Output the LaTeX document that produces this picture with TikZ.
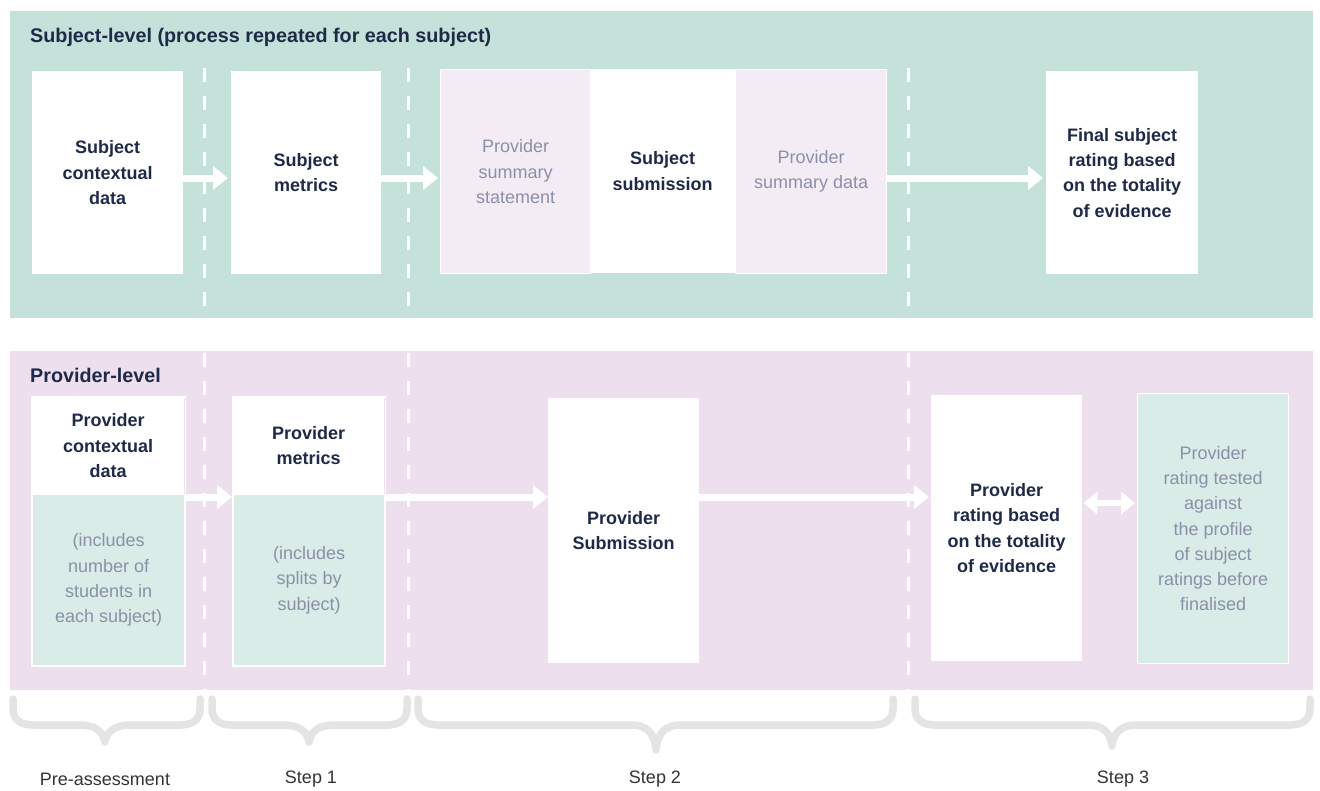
\documentclass[tikz,border=0pt]{standalone}
\usepackage{fontspec}
\setmainfont{Liberation Sans}
\usetikzlibrary{arrows.meta}
\definecolor{panelteal}{HTML}{C4E2DA}
\definecolor{panelpink}{HTML}{EEDFEF}
\definecolor{boxpink}{HTML}{F3ECF5}
\definecolor{boxteal}{HTML}{D9ECE7}
\definecolor{navy}{HTML}{1E2A47}
\definecolor{softgray}{HTML}{8B90A8}
\definecolor{bracegray}{HTML}{E4E4E2}
\definecolor{labelgray}{HTML}{333333}
\begin{document}
\begin{tikzpicture}[x=1pt,y=-1pt,
  sep/.style={white,line width=3pt,dash pattern=on 14pt off 14pt},
  anybox/.style={anchor=north west,inner sep=0pt,align=center,
    font=\fontsize{18}{25.3}\selectfont},
  wbox/.style={anybox,fill=white,text=navy,font=\fontsize{18}{25.3}\selectfont\bfseries},
  pbox/.style={anybox,fill=boxpink,draw=white,line width=1.2pt,text=softgray},
  tbox/.style={anybox,fill=boxteal,draw=white,line width=1.2pt,text=softgray},
  flow/.style={white,line width=7pt,-{Triangle[length=15pt,width=23pt]}},
  both/.style={white,line width=6pt,{Triangle[length=14pt,width=22pt]}-{Triangle[length=14pt,width=22pt]}},
  title/.style={anchor=west,inner sep=0pt,text=navy,font=\fontsize{19.75}{22}\selectfont\bfseries},
  brace/.style={bracegray,line width=7.5pt,line join=round,line cap=round},
  steplabel/.style={inner sep=0pt,text=labelgray,font=\fontsize{18}{20}\selectfont}]
\useasboundingbox (0,0) rectangle (1320,790);
% panels
\fill[panelteal] (10,11) rectangle (1313,318);
\fill[panelpink] (10,351) rectangle (1313,690);
% separators
\foreach \x in {204,408,908}{
  \draw[sep] (\x,68) -- (\x,318);
  \draw[sep] (\x,353) -- (\x,690);
}
% titles
\node[title] (t1) at (30,37) {Subject-level (process repeated for each subject)};
\node[title] (t2) at (30,375) {Provider-level};
% top boxes
\node[wbox,minimum width=151pt,minimum height=203pt] (scd) at (32,71) {Subject\\contextual\\data};
\node[wbox,minimum width=150pt,minimum height=203pt] (sm) at (231,71) {Subject\\metrics};
\node[pbox,minimum width=150pt,minimum height=204pt] (pss) at (440,69) {Provider\\summary\\statement};
\node[wbox,minimum width=145pt,minimum height=204pt] (ssub) at (590,69) {Subject\\submission};
\node[pbox,minimum width=151pt,minimum height=204pt] (psd) at (735,69) {Provider\\summary data};
\node[wbox,minimum width=152pt,minimum height=203pt] (fin) at (1046,71) {Final subject\\rating based\\on the totality\\of evidence};
% bottom boxes
\node[wbox,minimum width=152pt,minimum height=97pt] (pcd) at (32,397) {Provider\\contextual\\data};
\node[tbox,minimum width=152pt,minimum height=171pt] (pcdx) at (32,494) {(includes\\number of\\students in\\each subject)};
\node[wbox,minimum width=151pt,minimum height=97pt] (pm) at (233,397) {Provider\\metrics};
\node[tbox,minimum width=151pt,minimum height=171pt] (pmx) at (233,494) {(includes\\splits by\\subject)};
\node[wbox,minimum width=151pt,minimum height=265pt] (psub) at (548,398) {Provider\\Submission};
\node[wbox,minimum width=151pt,minimum height=266pt] (pr) at (931,395) {Provider\\rating based\\on the totality\\of evidence};
\node[tbox,minimum width=151pt,minimum height=270pt] (ptest) at (1137,393) {Provider\\rating tested\\against\\the profile\\of subject\\ratings before\\finalised};
% outline for provider boxes
\draw[white,line width=1.2pt] (pcd.north west) rectangle (pcdx.south east);
\draw[white,line width=1.2pt] (pm.north west) rectangle (pmx.south east);
% arrows
\coordinate (ytop) at (0,178);
\coordinate (ybot) at (0,497);
\coordinate (ydbl) at (0,503);
\draw[flow] (scd.east |- ytop) -- ([xshift=-3pt]sm.west |- ytop);
\draw[flow] (sm.east |- ytop) -- ([xshift=-2pt]pss.west |- ytop);
\draw[flow] (psd.east |- ytop) -- ([xshift=-3pt]fin.west |- ytop);
\draw[flow] (pcdx.north east |- ybot) -- ([xshift=-1pt]pmx.north west |- ybot);
\draw[flow] (pmx.north east |- ybot) -- (psub.west |- ybot);
\draw[flow] (psub.east |- ybot) -- ([xshift=-2pt]pr.west |- ybot);
\draw[both] ([xshift=1pt]pr.east |- ydbl) -- ([xshift=-2pt]ptest.west |- ydbl);
% braces
\newcommand{\mybrace}[4]{% x1, tip, x2, tipy
  \draw[brace] (#1,699) -- (#1,709) .. controls (#1,720) and (#1+8,725) .. (#1+20,725)
    -- (#2-26,725) .. controls (#2-10,725) and (#2-2,731) .. (#2,#4)
    .. controls (#2+2,731) and (#2+10,725) .. (#2+26,725)
    -- (#3-20,725) .. controls (#3-8,725) and (#3,720) .. (#3,709) -- (#3,699);}
\mybrace{13}{105}{200}{742}
\mybrace{212}{309}{407}{742}
\mybrace{418}{656}{893}{750}
\mybrace{915}{1112}{1310}{746}
% labels
\node[steplabel] (l0) at (105,779) {Pre-assessment};
\node[steplabel] (l1) at (311,779) {Step 1};
\node[steplabel] (l2) at (655,779) {Step 2};
\node[steplabel] (l3) at (1123,779) {Step 3};
\end{tikzpicture}
\end{document}
